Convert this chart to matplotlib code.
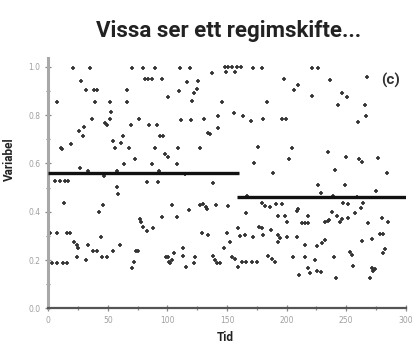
import matplotlib.pyplot as plt
from matplotlib.ticker import MultipleLocator

# ---------------------------------------------------------------
# DATA
# ---------------------------------------------------------------
tid = [
    21.0, 35.0, 70.0, 79.7, 89.5, 27.4, 81.1, 83.6, 87.0, 95.1,
    31.4, 38.6, 40.6, 65.8, 7.0, 39.2, 51.8, 65.8, 52.6, 36.4,
    51.8, 76.1, 47.6, 49.0, 69.4, 84.7, 90.9, 30.2, 26.0, 29.4,
    62.9, 93.7, 96.5, 54.5, 61.0, 10.7, 11.7, 19.0, 56.0, 67.7,
    89.5, 97.9, 100.2, 72.7, 63.8, 86.7, 26.6, 33.6, 57.4, 92.9,
    47.0, 5.6, 9.8, 14.0, 16.8, 82.6, 92.3,
    110.5, 118.9, 148.2, 151.0, 153.9, 158.1, 161.7, 148.8, 156.6, 172.0,
    179.0, 137.1, 198.0, 116.1, 125.8, 125.0, 122.5, 109.6, 100.7, 120.8,
    145.5, 183.2, 111.3, 119.7, 130.9, 142.6, 155.8, 163.6, 170.1, 180.4,
    195.8, 199.2, 142.1, 134.2, 135.7, 109.1, 127.3, 175.7, 107.7, 172.8,
    201.9, 114.7, 188.8, 138.4,
    221.0, 226.5, 236.3, 267.1, 209.7, 206.4, 221.0, 246.1, 250.3, 243.3,
    265.7, 266.3, 259.6, 204.2, 234.9, 249.5, 260.7, 262.9, 276.8, 240.5,
    283.9, 226.5, 248.9,
    57.4, 58.7, 13.4, 46.1, 42.5, 95.6, 76.9, 77.8, 79.7, 82.6,
    87.6, 44.2, 1.4, 7.0, 15.4, 18.2, 21.8, 23.8, 24.7, 33.6,
    37.8, 40.6, 54.5, 60.2, 73.3, 75.0, 23.8, 31.4, 44.8, 49.0,
    72.1, 70.5, 98.5, 101.3, 2.9, 7.0, 12.6, 15.4,
    166.4, 104.0, 127.3, 130.0, 132.0, 132.9, 140.4, 150.5, 118.0, 107.7,
    165.6, 179.0, 181.8, 186.0, 190.8, 195.8, 193.0, 198.6, 128.7, 134.2,
    149.7, 152.4, 158.9, 160.8, 165.0, 172.0, 176.8, 179.5, 186.8, 180.4,
    193.0, 194.4, 192.4, 113.3, 105.7, 100.7, 103.5, 102.1, 113.3, 115.3,
    123.1, 122.5, 138.4, 139.8, 141.3, 144.0, 147.7, 153.9, 156.6, 159.4,
    162.8, 165.6, 170.6, 174.8, 184.6, 187.4, 190.2,
    274.7, 228.8, 239.1, 258.7, 247.5, 251.7, 264.3, 209.7, 208.4, 237.8,
    262.4, 257.3, 217.6, 241.9, 246.1, 251.7, 244.7, 200.0, 212.6, 215.4,
    218.1, 232.1, 234.4, 235.5, 268.5, 279.7, 285.2, 200.0, 208.4, 215.4,
    225.2, 229.4, 232.1, 263.4, 271.8, 278.3, 281.0, 253.1, 254.5, 281.0,
    282.5, 205.5, 215.4, 223.7, 239.9, 255.9, 218.1, 219.5, 225.2, 228.8,
    210.3, 241.1, 271.3, 274.1, 272.7, 269.9,
]
varde = [
    0.994, 0.994, 0.994, 0.994, 0.994, 0.941, 0.949, 0.949, 0.949, 0.949,
    0.904, 0.904, 0.904, 0.904, 0.855, 0.855, 0.855, 0.855, 0.814, 0.784,
    0.784, 0.784, 0.766, 0.759, 0.759, 0.759, 0.759, 0.752, 0.734, 0.713,
    0.713, 0.713, 0.713, 0.693, 0.686, 0.665, 0.660, 0.679, 0.665, 0.663,
    0.665, 0.638, 0.628, 0.618, 0.596, 0.596, 0.580, 0.569, 0.569, 0.569,
    0.549, 0.527, 0.527, 0.527, 0.527, 0.524, 0.524,
    0.994, 0.994, 1.000, 1.000, 1.000, 1.000, 1.000, 0.980, 0.980, 0.994,
    0.994, 0.973, 0.949, 0.938, 0.941, 0.908, 0.890, 0.900, 0.876, 0.858,
    0.853, 0.853, 0.780, 0.780, 0.784, 0.798, 0.807, 0.798, 0.776, 0.784,
    0.784, 0.784, 0.748, 0.725, 0.720, 0.665, 0.665, 0.669, 0.596, 0.600,
    0.618, 0.555, 0.559, 0.518,
    0.996, 0.996, 0.945, 0.959, 0.925, 0.904, 0.880, 0.890, 0.876, 0.842,
    0.842, 0.798, 0.770, 0.665, 0.646, 0.628, 0.618, 0.605, 0.624, 0.573,
    0.559, 0.511, 0.511,
    0.504, 0.473, 0.435, 0.428, 0.400, 0.379, 0.369, 0.359, 0.338, 0.321,
    0.331, 0.294, 0.313, 0.313, 0.313, 0.313, 0.276, 0.262, 0.248, 0.262,
    0.239, 0.239, 0.239, 0.262, 0.239, 0.239, 0.214, 0.200, 0.214, 0.214,
    0.193, 0.166, 0.214, 0.193, 0.189, 0.189, 0.189, 0.189,
    0.465, 0.428, 0.428, 0.432, 0.421, 0.410, 0.428, 0.424, 0.407, 0.379,
    0.393, 0.435, 0.424, 0.421, 0.432, 0.432, 0.382, 0.382, 0.311, 0.304,
    0.313, 0.276, 0.331, 0.299, 0.304, 0.296, 0.338, 0.331, 0.324, 0.304,
    0.304, 0.290, 0.276, 0.248, 0.228, 0.211, 0.200, 0.186, 0.217, 0.170,
    0.211, 0.189, 0.217, 0.200, 0.189, 0.189, 0.248, 0.214, 0.203, 0.170,
    0.193, 0.193, 0.193, 0.193, 0.217, 0.203, 0.193,
    0.487, 0.479, 0.465, 0.460, 0.437, 0.432, 0.437, 0.410, 0.404, 0.400,
    0.414, 0.393, 0.382, 0.382, 0.369, 0.373, 0.359, 0.359, 0.352, 0.352,
    0.352, 0.359, 0.363, 0.366, 0.354, 0.373, 0.359, 0.296, 0.296, 0.262,
    0.258, 0.269, 0.283, 0.279, 0.286, 0.308, 0.308, 0.234, 0.221, 0.228,
    0.244, 0.211, 0.211, 0.200, 0.211, 0.175, 0.166, 0.147, 0.156, 0.152,
    0.138, 0.124, 0.166, 0.161, 0.156, 0.124,
]

# regime means (start, end, level)
regim_start = [0, 158]
regim_slut = [160, 300]
regim_niva = [0.560, 0.459]

# ---------------------------------------------------------------
# FIGURE
# ---------------------------------------------------------------
fig = plt.figure(figsize=(4.12, 3.5), dpi=100)
ax = fig.add_axes([0.117, 0.119, 0.868, 0.715])

ax.plot(tid, varde, ls="none", marker="+", ms=3.4, mew=1.25, color="#333333")
ax.hlines(regim_niva, regim_start, regim_slut, colors="#111111", lw=2.4, zorder=3)

ax.set_xlim(0, 300)
ax.set_ylim(0, 1.036)

ax.xaxis.set_major_locator(MultipleLocator(50))
ax.xaxis.set_minor_locator(MultipleLocator(25))
ax.yaxis.set_major_locator(MultipleLocator(0.2))
ax.yaxis.set_minor_locator(MultipleLocator(0.1))
ax.yaxis.set_major_formatter(plt.FuncFormatter(lambda v, p: f"{v:.1f}"))

for s in ("top", "right"):
    ax.spines[s].set_visible(False)
ax.spines["left"].set_color("#a8a8a8")
ax.spines["left"].set_linewidth(2.2)
ax.spines["bottom"].set_color("#555555")
ax.spines["bottom"].set_linewidth(1.6)

ax.tick_params(which="both", direction="inout", colors="#888888",
               labelcolor="#a0a0a0", labelsize=5.5, width=0.9)
ax.tick_params(which="major", length=4)
ax.tick_params(which="minor", length=3)

ax.text(0.985, 0.91, "(c)", transform=ax.transAxes, ha="right", va="center",
        fontsize=11, fontweight="bold", color="#333333", family="Roboto")

fig.text(0.555, 0.912, "Vissa ser ett regimskifte...", ha="center", va="center",
         fontsize=16, fontweight="bold", color="#222222", family="Roboto")
fig.text(0.024, 0.545, "Variabel", rotation=90, ha="center", va="center",
         fontsize=8.5, fontweight="bold", color="#222222", family="Roboto")
fig.text(0.546, 0.035, "Tid", ha="center", va="center",
         fontsize=8.5, fontweight="bold", color="#222222", family="Roboto")

fig.savefig("out.png", dpi=100)
